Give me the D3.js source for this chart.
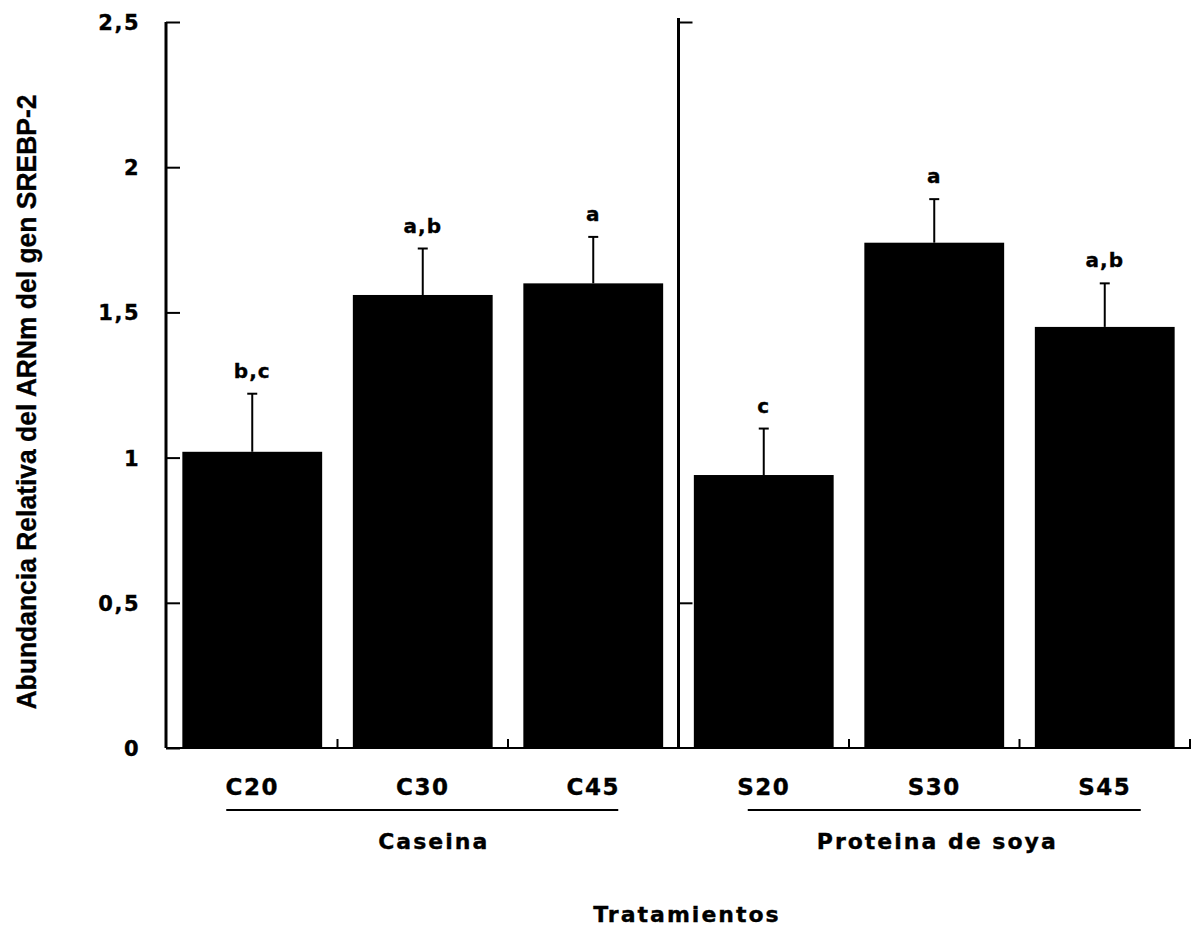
<!DOCTYPE html>
<html><head><meta charset="utf-8">
<script src="https://cdn.jsdelivr.net/npm/d3@7"></script>
<style>
html,body{margin:0;padding:0;background:#fff;}
svg text{font-family:"DejaVu Sans",sans-serif;font-weight:bold;fill:#000;stroke:#000;stroke-width:0.35px;}
</style></head>
<body>
<svg id="chart" width="1193" height="928"></svg>
<script>
// ---- data ----
const categories = ["C20","C30","C45","S20","S30","S45"];
const groups = ["Caseina","Proteina de soya"];
const groupOf = [0,0,0,1,1,1];
const values = [1.02, 1.56, 1.60, 0.94, 1.74, 1.45];
const errors = [0.20, 0.16, 0.16, 0.16, 0.15, 0.15];
const letters = ["b,c","a,b","a","c","a","a,b"];
const yTicks = [0, 0.5, 1, 1.5, 2, 2.5];
const yTickLabels = ["0","0,5","1","1,5","2","2,5"];
const dividerTicks = [2.5, 0.5];
const yTitle = "Abundancia Relativa del ARNm del gen SREBP-2";
const xTitle = "Tratamientos";

// ---- layout ----
const svg = d3.select("#chart");
const y = d3.scaleLinear().domain([0, 2.5]).range([748, 22]);
const x = d3.scaleBand().domain(categories).range([167, 1190]).paddingInner(0.18).paddingOuter(0.09);
const bw = x.bandwidth();
const step = x.step();

// bars
svg.append("g").selectAll("rect").data(categories).join("rect")
  .attr("x", d => x(d)).attr("width", bw)
  .attr("y", (d,i) => y(values[i])).attr("height", (d,i) => y(0) - y(values[i]))
  .attr("fill", "#000");

// error bars
const eb = svg.append("g").attr("stroke", "#000").attr("stroke-width", 2);
categories.forEach((c,i) => {
  const cx = x(c) + bw/2;
  eb.append("line").attr("x1", cx).attr("x2", cx).attr("y1", y(values[i])).attr("y2", y(values[i]+errors[i]));
  eb.append("line").attr("x1", cx-5).attr("x2", cx+5).attr("y1", y(values[i]+errors[i])).attr("y2", y(values[i]+errors[i]));
});

// significance letters
svg.append("g").selectAll("text").data(categories).join("text")
  .attr("x", d => x(d) + bw/2).attr("y", (d,i) => y(values[i]+errors[i]) - 16)
  .attr("text-anchor", "middle").attr("font-size", 20).attr("letter-spacing", 1)
  .text((d,i) => letters[i]);

// left y axis
const yAxis = d3.axisRight(y).tickValues(yTicks).tickSize(14).tickFormat("");
const gy = svg.append("g").attr("transform", "translate(166,0)").call(yAxis);
gy.select(".domain").attr("stroke-width", 3).attr("d", `M0,${y(2.5)}V${y(0)}`);
gy.selectAll(".tick line").attr("stroke-width", 2);
svg.append("g").selectAll("text").data(yTicks).join("text")
  .attr("x", 140).attr("y", d => y(d) + 8)
  .attr("text-anchor", "end").attr("font-size", 21).attr("letter-spacing", 1.5)
  .text((d,i) => yTickLabels[i]);

// divider between groups
const dx = (x(categories[2]) + bw + x(categories[3])) / 2;
const gd = svg.append("g").attr("transform", `translate(${dx},0)`).call(d3.axisRight(y).tickValues(dividerTicks).tickSize(14).tickFormat(""));
gd.select(".domain").attr("stroke-width", 3).attr("d", `M0,${y(2.5)-4}V${y(0)}`);
gd.selectAll(".tick line").attr("stroke-width", 2);

// x axis
const bounds = categories.slice(1).map(c => x(c) - (step - bw)/2).concat([1190]);
svg.append("line").attr("x1", 166).attr("x2", 1191).attr("y1", 748).attr("y2", 748).attr("stroke", "#000").attr("stroke-width", 2);
svg.append("g").selectAll("line").data(bounds).join("line")
  .attr("x1", d => d).attr("x2", d => d).attr("y1", 748).attr("y2", 739)
  .attr("stroke", "#000").attr("stroke-width", 2);

// category labels
svg.append("g").selectAll("text").data(categories).join("text")
  .attr("x", d => x(d) + bw/2).attr("y", 795)
  .attr("text-anchor", "middle").attr("font-size", 23).attr("letter-spacing", 1.5)
  .text(d => d);

// group lines and labels
const groupSpan = [[-26, 25, 11], [-16, 36, 3]];
groups.forEach((g, gi) => {
  const cats = categories.filter((c,i) => groupOf[i] === gi);
  const x0 = x(cats[0]) + bw/2 + groupSpan[gi][0];
  const x1 = x(cats[cats.length-1]) + bw/2 + groupSpan[gi][1];
  svg.append("line").attr("x1", x0).attr("x2", x1).attr("y1", 810).attr("y2", 810).attr("stroke", "#000").attr("stroke-width", 2);
  svg.append("text").attr("x", x(cats[1]) + bw/2 + groupSpan[gi][2]).attr("y", 849)
    .attr("text-anchor", "middle").attr("font-size", 22).attr("letter-spacing", 2).text(g);
});

// axis titles
svg.append("text").attr("x", 687).attr("y", 922).attr("text-anchor", "middle")
  .attr("font-size", 22).attr("letter-spacing", 2).text(xTitle);
svg.append("text").attr("transform", "translate(36,402) rotate(-90)")
  .attr("text-anchor", "middle").attr("font-size", 27)
  .style("font-family", "'Liberation Sans', Arial, sans-serif")
  .attr("textLength", 615).attr("lengthAdjust", "spacingAndGlyphs")
  .text(yTitle);
</script>
</body></html>
